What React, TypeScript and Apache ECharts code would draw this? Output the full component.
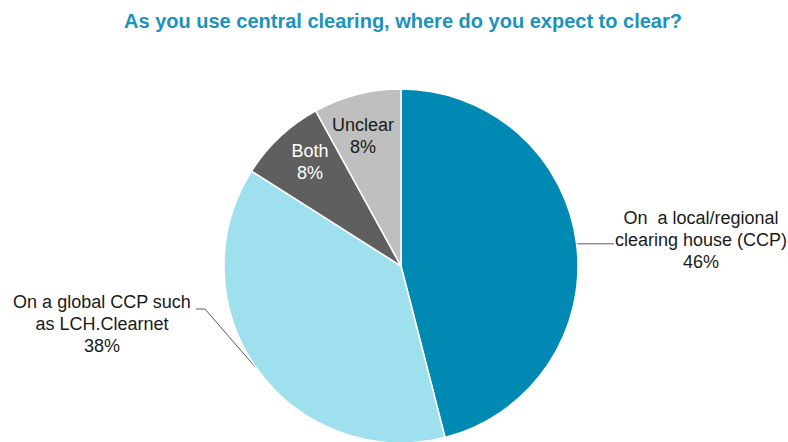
import React, { useEffect, useRef } from "react";
import * as echarts from "echarts";

const title = "As you use central clearing, where do you expect to clear?";
const categories = ["On  a local/regional\nclearing house (CCP)", "On a global CCP such\nas LCH.Clearnet", "Both", "Unclear"];
const values = [46, 38, 8, 8];
const colors = ["#0089B3", "#9FE0EE", "#5F5F5F", "#BFBFBF"];
const labelColors = ["#1a1a1a", "#1a1a1a", "#ffffff", "#1a1a1a"];

// label anchor positions (x, y) for each slice label
const labelPos: [number, number][] = [
  [701, 240],
  [102, 324],
  [310, 162],
  [363, 136],
];

export default function App() {
  const ref = useRef<HTMLDivElement>(null);
  useEffect(() => {
    const chart = echarts.init(ref.current!, null, { renderer: "svg" });
    chart.setOption({
      animation: false,
      title: {
        text: title,
        left: 398,
        textAlign: "center",
        top: 6,
        textStyle: {
          fontFamily: "Liberation Sans, Arial, sans-serif",
          fontSize: 20,
          fontWeight: "bold",
          color: "#1B93BA",
        },
      },
      series: [
        {
          type: "pie",
          center: [401, 266],
          radius: 177,
          startAngle: 90,
          clockwise: true,
          itemStyle: { borderColor: "#ffffff", borderWidth: 1.5 },
          data: categories.map((name, i) => ({
            name,
            value: values[i],
            itemStyle: { color: colors[i] },
            label: {
              position: i < 2 ? "outside" : "inside",
              color: labelColors[i],
            },
            labelLine: { show: i < 2 },
          })),
          label: {
            formatter: "{b}\n{c}%",
            fontFamily: "Liberation Sans, Arial, sans-serif",
            fontSize: 18,
            lineHeight: 22,
            align: "center",
            overflow: "none",
          },
          labelLine: {
            lineStyle: { color: "#595959", width: 1 },
          },
          labelLayout: (params: any) => {
            const i = params.dataIndex;
            const [x, y] = labelPos[i];
            const out: any = { x, y, align: "center", verticalAlign: "middle" };
            const p0 = params.labelLinePoints ? params.labelLinePoints[0] : null;
            if (i === 0 && p0) {
              out.labelLinePoints = [p0, [p0[0] + 16, p0[1]], [614, p0[1]]];
            } else if (i === 1 && p0) {
              out.labelLinePoints = [p0, [205, 309], [196, 309]];
            }
            return out;
          },
        },
      ],
    });
    return () => chart.dispose();
  }, []);
  return (
    <div
      ref={ref}
      style={{ position: "absolute", left: 0, top: 0, width: 788, height: 442 }}
    />
  );
}
